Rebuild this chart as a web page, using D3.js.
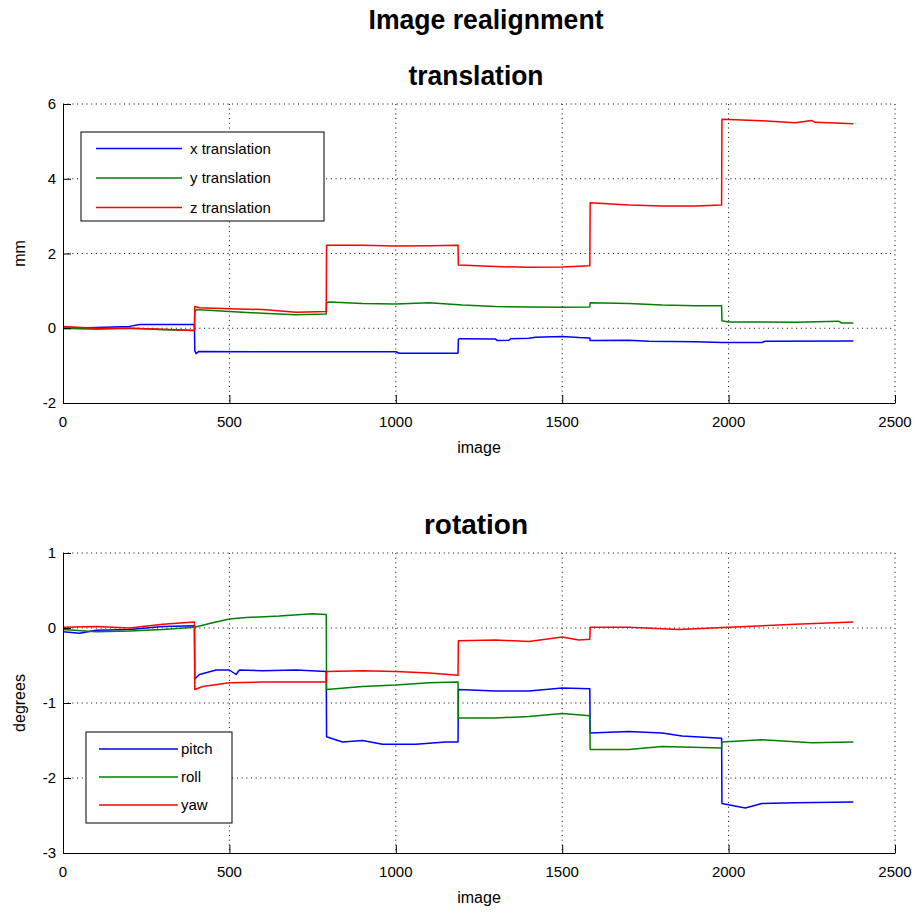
<!DOCTYPE html>
<html>
<head>
<meta charset="utf-8">
<script src="https://cdn.jsdelivr.net/npm/d3@7"></script>
<style>
  body { margin: 0; background: #fff; }
  svg { display: block; }
  text { font-family: "Liberation Sans", Arial, sans-serif; fill: #000; }
  .title { font-weight: bold; }
  .grid line { stroke: #000; stroke-width: 1; stroke-dasharray: 1, 3.7; }
  .series { fill: none; stroke-width: 1.5; stroke-linejoin: round; }
</style>
</head>
<body>
<div id="chart"></div>
<script>
// data, [image, value]
const xTicks = [0, 500, 1000, 1500, 2000, 2500]
const transTicks = [-2, 0, 2, 4, 6]
const rotTicks = [-3, -2, -1, 0, 1]

const transLabels = ['x translation', 'y translation', 'z translation']
const rotLabels = ['pitch', 'roll', 'yaw']
const colors = ['#0000ff', '#008000', '#ff0000']

const xTrans = [[0,0.0],[100,0.02],[200,0.05],[230,0.1],[395,0.1],[396,-0.6],[400,-0.68],[408,-0.62],[600,-0.63],[1000,-0.63],[1010,-0.67],[1187,-0.67],[1188,-0.3],[1192,-0.28],[1300,-0.29],[1305,-0.33],[1340,-0.32],[1345,-0.28],[1400,-0.27],[1420,-0.24],[1500,-0.22],[1550,-0.25],[1583,-0.26],[1584,-0.33],[1700,-0.32],[1760,-0.35],[1900,-0.36],[1980,-0.38],[2100,-0.38],[2110,-0.35],[2375,-0.34]]
const yTrans = [[0,0.0],[100,-0.03],[200,0.0],[260,-0.02],[300,-0.04],[395,-0.06],[396,0.44],[400,0.5],[500,0.45],[600,0.4],[700,0.36],[791,0.38],[792,0.68],[800,0.7],[900,0.66],[1000,0.65],[1100,0.68],[1200,0.62],[1300,0.58],[1400,0.57],[1500,0.56],[1583,0.57],[1584,0.68],[1700,0.66],[1800,0.62],[1900,0.6],[1979,0.6],[1980,0.2],[2000,0.17],[2200,0.16],[2330,0.19],[2340,0.14],[2375,0.14]]
const zTrans = [[0,0.05],[100,0.0],[200,0.0],[300,-0.03],[395,-0.06],[396,0.58],[410,0.55],[500,0.52],[600,0.5],[700,0.43],[791,0.45],[792,2.22],[900,2.22],[1000,2.2],[1100,2.21],[1187,2.22],[1188,1.69],[1300,1.65],[1400,1.63],[1500,1.64],[1583,1.67],[1584,3.36],[1700,3.3],[1800,3.27],[1900,3.27],[1979,3.3],[1980,5.59],[2100,5.55],[2200,5.5],[2250,5.56],[2260,5.51],[2300,5.5],[2375,5.47]]

const pitch = [[0,-0.05],[50,-0.07],[100,-0.03],[200,-0.02],[300,0.02],[395,0.03],[396,-0.68],[410,-0.62],[460,-0.56],[500,-0.56],[520,-0.62],[530,-0.56],[600,-0.57],[700,-0.56],[791,-0.58],[792,-1.45],[840,-1.52],[900,-1.5],[960,-1.55],[1060,-1.55],[1150,-1.52],[1187,-1.52],[1188,-0.82],[1300,-0.84],[1400,-0.84],[1500,-0.8],[1583,-0.81],[1584,-1.4],[1700,-1.38],[1800,-1.4],[1860,-1.44],[1979,-1.47],[1980,-2.34],[2050,-2.4],[2100,-2.34],[2200,-2.33],[2375,-2.32]]
const roll = [[0,-0.02],[100,-0.05],[200,-0.04],[300,-0.02],[395,0.01],[450,0.07],[500,0.12],[550,0.14],[650,0.16],[750,0.19],[791,0.18],[792,-0.82],[900,-0.78],[1000,-0.76],[1100,-0.73],[1187,-0.72],[1188,-1.2],[1300,-1.2],[1400,-1.18],[1500,-1.14],[1583,-1.17],[1584,-1.62],[1700,-1.62],[1800,-1.58],[1979,-1.6],[1980,-1.52],[2100,-1.49],[2250,-1.53],[2375,-1.52]]
const yaw = [[0,0.01],[100,0.02],[200,0.0],[300,0.05],[395,0.08],[396,-0.82],[420,-0.78],[500,-0.73],[600,-0.72],[791,-0.72],[792,-0.58],[900,-0.57],[1000,-0.58],[1100,-0.6],[1187,-0.63],[1188,-0.17],[1300,-0.16],[1400,-0.18],[1500,-0.12],[1550,-0.16],[1583,-0.15],[1584,0.01],[1700,0.01],[1800,-0.01],[1850,-0.02],[2000,0.01],[2200,0.05],[2375,0.08]]

const width = 915
const height = 916
const plotLeft = 63
const plotRight = 895
const tickLen = 8

const $svg = d3.select('#chart').append('svg')
  .attr('width', width)
  .attr('height', height)

$svg.append('text')
  .attr('class', 'title')
  .attr('x', 486)
  .attr('y', 29)
  .attr('text-anchor', 'middle')
  .attr('textLength', 235)
  .attr('lengthAdjust', 'spacingAndGlyphs')
  .style('font-size', '28px')
  .text('Image realignment')

const scaleX = d3.scaleLinear().domain([0, 2500]).range([plotLeft, plotRight])

function drawPanel(opts) {
  const scaleY = d3.scaleLinear().domain(opts.domain).range([opts.bottom, opts.top])
  const $g = $svg.append('g')

  // title
  $g.append('text')
    .attr('class', 'title')
    .attr('x', 476)
    .attr('y', opts.top - 19)
    .attr('text-anchor', 'middle')
    .attr('textLength', opts.titleWidth)
    .attr('lengthAdjust', 'spacingAndGlyphs')
    .style('font-size', '28px')
    .text(opts.title)

  // dotted grid
  const $grid = $g.append('g').attr('class', 'grid')
  $grid.selectAll('.gx')
    .data(xTicks.filter(d => d > 0))
    .enter().append('line')
    .attr('x1', d => scaleX(d)).attr('x2', d => scaleX(d))
    .attr('y1', opts.top).attr('y2', opts.bottom)
  $grid.selectAll('.gy')
    .data(opts.ticks.filter(d => d > opts.domain[0]))
    .enter().append('line')
    .attr('x1', plotLeft).attr('x2', plotRight)
    .attr('y1', d => scaleY(d)).attr('y2', d => scaleY(d))

  // series
  const line = d3.line()
    .x(d => scaleX(d[0]))
    .y(d => scaleY(d[1]))

  $g.selectAll('.series')
    .data(opts.series)
    .enter().append('path')
    .attr('class', 'series')
    .attr('stroke', (d, i) => colors[i])
    .attr('d', line)

  // axes, ticks pointing inward
  const $xAxis = $g.append('g')
    .attr('transform', `translate(0, ${opts.bottom})`)
    .call(d3.axisTop(scaleX).tickValues(xTicks).tickSize(tickLen).tickSizeOuter(0).tickFormat(''))
  $xAxis.selectAll('line, path').attr('stroke', '#000')

  $g.selectAll('.xlab')
    .data(xTicks)
    .enter().append('text')
    .attr('x', d => scaleX(d))
    .attr('y', opts.bottom + 24)
    .attr('text-anchor', 'middle')
    .style('font-size', '15px')
    .text(d => d)

  const $yAxis = $g.append('g')
    .attr('transform', `translate(${plotLeft}, 0)`)
    .call(d3.axisRight(scaleY).tickValues(opts.ticks).tickSize(tickLen).tickSizeOuter(0).tickFormat(''))
  $yAxis.selectAll('line, path').attr('stroke', '#000')

  $g.selectAll('.ylab')
    .data(opts.ticks)
    .enter().append('text')
    .attr('x', plotLeft - 7)
    .attr('y', d => scaleY(d) + 5)
    .attr('text-anchor', 'end')
    .style('font-size', '15px')
    .text(d => d)

  $g.append('text')
    .attr('x', 479)
    .attr('y', opts.bottom + 50)
    .attr('text-anchor', 'middle')
    .style('font-size', '16px')
    .text('image')

  $g.append('text')
    .attr('transform', `translate(25, ${(opts.top + opts.bottom) / 2}) rotate(-90)`)
    .attr('text-anchor', 'middle')
    .style('font-size', '16px')
    .text(opts.yLabel)

  // legend
  const lg = opts.legend
  const $legend = $g.append('g')
  $legend.append('rect')
    .attr('x', lg.x).attr('y', lg.y)
    .attr('width', lg.w).attr('height', lg.h)
    .attr('fill', '#fff').attr('stroke', '#000')

  const rows = $legend.selectAll('.row')
    .data(opts.labels)
    .enter().append('g')
    .attr('transform', (d, i) => `translate(0, ${lg.firstRow + i * lg.rowGap})`)
  rows.append('line')
    .attr('x1', lg.lineX1).attr('x2', lg.lineX2)
    .attr('stroke', (d, i) => colors[i])
    .attr('stroke-width', 1.5)
  rows.append('text')
    .attr('x', lg.textX)
    .attr('y', 5)
    .style('font-size', '15px')
    .text(d => d)
}

drawPanel({
  title: 'translation',
  titleWidth: 135,
  domain: [-2, 6],
  ticks: transTicks,
  top: 104,
  bottom: 403,
  yLabel: 'mm',
  series: [xTrans, yTrans, zTrans],
  labels: transLabels,
  legend: { x: 81, y: 132, w: 243, h: 89, firstRow: 148.5, rowGap: 29.5, lineX1: 96, lineX2: 182, textX: 190 }
})

drawPanel({
  title: 'rotation',
  titleWidth: 104,
  domain: [-3, 1],
  ticks: rotTicks,
  top: 553,
  bottom: 853,
  yLabel: 'degrees',
  series: [pitch, roll, yaw],
  labels: rotLabels,
  legend: { x: 86, y: 732, w: 146, h: 91, firstRow: 749, rowGap: 28, lineX1: 99, lineX2: 178, textX: 181 }
})
</script>
</body>
</html>
